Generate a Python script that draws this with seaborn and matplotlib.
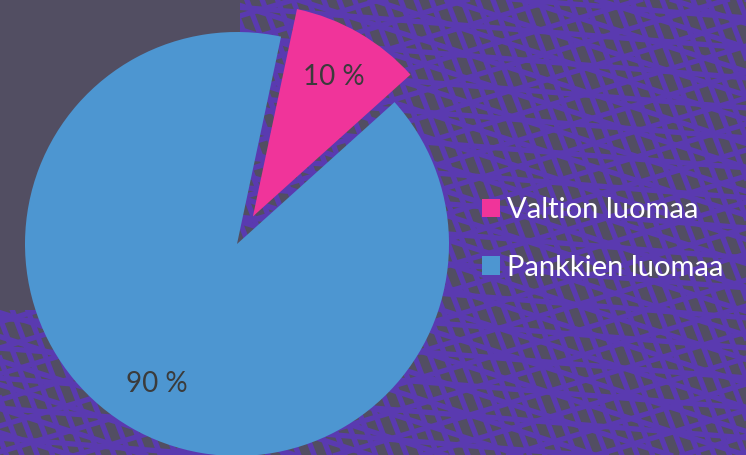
import numpy as np
import matplotlib
matplotlib.use("Agg")
import matplotlib.pyplot as plt
import seaborn as sns
from matplotlib.collections import LineCollection
from matplotlib.patches import Polygon

sns.set_theme(style="white")
plt.rcParams['font.family'] = ['Lato', 'DejaVu Sans']

labels = ["Valtion luomaa", "Pankkien luomaa"]
values = [10, 90]
colors = ["#f0349a", "#4d96d1"]

W, H = 746, 455
fig = plt.figure(figsize=(W / 100, H / 100), dpi=100)

GREY = "#524e62"
PURPLE = "#5a3ab0"

# decorative background
bg = fig.add_axes([0, 0, 1, 1])
bg.set_xlim(0, W)
bg.set_ylim(H, 0)
bg.axis("off")
bg.add_patch(plt.Rectangle((0, 0), W, H, color=GREY, zorder=0))
clip = Polygon([(240, 0), (W, 0), (W, H), (0, H), (0, 310), (240, 310)],
               closed=True, transform=bg.transData, facecolor="none", edgecolor="none")
bg.add_patch(clip)
segs = []
xs = np.array([-100, W + 100])
for slope, step in [(0.32, 24), (-0.30, 26), (2.6, 40), (0.08, 30)]:
    span = np.arange(-1500, 1500, step)
    for b in span:
        segs.append(np.column_stack([xs, slope * (xs - 373) + b + 228]))
lc = LineCollection(segs, colors=PURPLE, linewidths=3.8, zorder=1)
bg.add_collection(lc)
lc.set_clip_path(clip)

# pie
R = 212
cx, cy = 237, H - 244
ax = fig.add_axes([(cx - R) / W, (cy - R) / H, 2 * R / W, 2 * R / H])
wedges, texts, autotexts = ax.pie(
    values, colors=colors, startangle=78, counterclock=False,
    explode=[0.15, 0], radius=1,
    autopct=lambda p: f"{p:.0f} %", pctdistance=0.76,
    wedgeprops=dict(linewidth=0),
    textprops=dict(color="#3b3b3b", fontsize=20),
)
ax.set_xlim(-1, 1)
ax.set_ylim(-1, 1)
ax.set_aspect("equal")
ax.axis("off")

leg = fig.legend(wedges, labels, loc="center left", bbox_to_anchor=(482 / W, 1 - 239 / H),
                 frameon=False, fontsize=21, labelcolor="white",
                 handlelength=0.6, handleheight=0.6, handletextpad=0.25,
                 labelspacing=1.07, borderaxespad=0, borderpad=0)

fig.savefig("out.png", dpi=100, facecolor=GREY)
